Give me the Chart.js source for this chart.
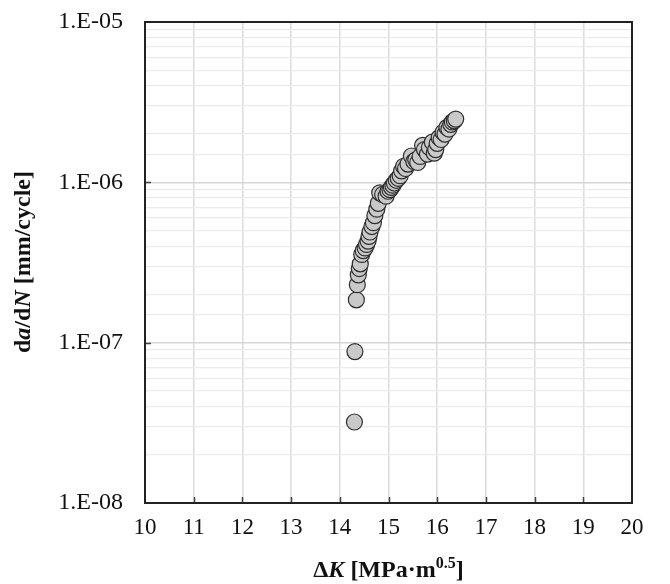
<!DOCTYPE html>
<html>
<head>
<meta charset="utf-8">
<script src="https://cdn.jsdelivr.net/npm/chart.js@4.4.1/dist/chart.umd.min.js"></script>
<style>
  html, body { margin: 0; padding: 0; background: #fff; }
  #wrap { width: 670px; height: 584px; }
</style>
</head>
<body>
<div id="wrap"><canvas id="container"></canvas></div>
<script>
// stress intensity range, MPa·m^0.5
const kValues = [
  14.30, 14.31, 14.34, 14.36, 14.38, 14.40, 14.42, 14.45, 14.48, 14.52,
  14.55, 14.58, 14.60, 14.62, 14.66, 14.69, 14.72, 14.76, 14.79, 14.82,
  14.88, 14.95, 14.99, 15.03, 15.06, 15.09, 15.12, 15.16, 15.20, 15.24,
  15.27, 15.31, 15.35, 15.40, 15.47, 15.52, 15.56, 15.60, 15.65, 15.70,
  15.74, 15.80, 15.84, 15.90, 15.94, 15.97, 16.00, 16.04, 16.08, 16.12,
  16.16, 16.20, 16.24, 16.28, 16.31, 16.35, 16.38
];
// crack growth rate, mm/cycle
const rateValues = [
  3.2e-8, 8.8e-8, 1.85e-7, 2.3e-7, 2.65e-7, 2.9e-7, 3.1e-7, 3.55e-7, 3.75e-7, 3.9e-7,
  4.1e-7, 4.3e-7, 4.6e-7, 4.9e-7, 5.3e-7, 5.6e-7, 6.2e-7, 6.8e-7, 7.4e-7, 8.6e-7,
  8.4e-7, 8.2e-7, 8.8e-7, 9.0e-7, 9.3e-7, 9.6e-7, 9.9e-7, 1.03e-6, 1.06e-6, 1.10e-6,
  1.18e-6, 1.26e-6, 1.22e-6, 1.30e-6, 1.46e-6, 1.35e-6, 1.38e-6, 1.33e-6, 1.45e-6, 1.70e-6,
  1.60e-6, 1.50e-6, 1.65e-6, 1.78e-6, 1.52e-6, 1.60e-6, 1.75e-6, 1.90e-6, 1.85e-6, 2.05e-6,
  2.00e-6, 2.20e-6, 2.15e-6, 2.30e-6, 2.38e-6, 2.42e-6, 2.48e-6
];
const xRange = [10, 20];
const yRange = [1e-8, 1e-5];
const yDecades = [1e-7, 1e-6];

const serif = "'Liberation Serif', 'Times New Roman', serif";

function isDecade(v) {
  const e = Math.log10(v);
  return Math.abs(e - Math.round(e)) < 1e-6;
}

// draws a run of text pieces with their own font / offset
function drawPieces(ctx, pieces, x, y) {
  let total = 0;
  pieces.forEach(p => { ctx.font = p.font; p.w = ctx.measureText(p.text).width; total += p.w; });
  let cx = x - total / 2;
  pieces.forEach(p => {
    ctx.font = p.font;
    ctx.fillText(p.text, cx, y + (p.dy || 0));
    cx += p.w;
  });
}

const framePlugin = {
  id: 'frame',
  afterDraw(chart) {
    const { ctx, chartArea: a, scales } = chart;
    ctx.save();
    // inside tick marks
    ctx.strokeStyle = '#404040';
    ctx.lineWidth = 1.5;
    for (let k = xRange[0] + 1; k < xRange[1]; k++) {
      const px = Math.round(scales.x.getPixelForValue(k)) + 0.5;
      ctx.beginPath();
      ctx.moveTo(px, a.bottom);
      ctx.lineTo(px, a.bottom - 6);
      ctx.stroke();
    }
    yDecades.forEach(v => {
      const py = Math.round(scales.y.getPixelForValue(v)) + 0.5;
      ctx.beginPath();
      ctx.moveTo(a.left, py);
      ctx.lineTo(a.left + 6, py);
      ctx.stroke();
    });
    ctx.strokeStyle = '#222';
    ctx.lineWidth = 2;
    ctx.strokeRect(a.left, a.top, a.right - a.left, a.bottom - a.top);

    ctx.fillStyle = '#111';
    ctx.textBaseline = 'alphabetic';
    const b = 'bold 24px ' + serif, bi = 'italic bold 24px ' + serif, sup = 'bold 16px ' + serif;
    drawPieces(ctx, [
      { text: 'Δ', font: b }, { text: 'K', font: bi }, { text: ' [MPa·m', font: b },
      { text: '0.5', font: sup, dy: -9 }, { text: ']', font: b }
    ], (a.left + a.right) / 2, 577);

    ctx.translate(30, 262);
    ctx.rotate(-Math.PI / 2);
    drawPieces(ctx, [
      { text: 'd', font: b }, { text: 'a', font: bi }, { text: '/d', font: b },
      { text: 'N', font: bi }, { text: ' [mm/cycle]', font: b }
    ], 0, 0);
    ctx.restore();
  }
};

new Chart(document.getElementById('container'), {
  type: 'scatter',
  data: {
    datasets: [{
      data: kValues.map((k, i) => ({ x: k, y: rateValues[i] })),
      backgroundColor: '#c9c9c9',
      borderColor: '#2e2e2e',
      borderWidth: 1.2,
      pointRadius: 8,
      pointHoverRadius: 8
    }]
  },
  options: {
    responsive: true,
    maintainAspectRatio: false,
    animation: false,
    layout: { padding: { left: 0, right: 38, top: 22, bottom: 0 } },
    plugins: { legend: { display: false }, tooltip: { enabled: false } },
    scales: {
      x: {
        type: 'linear',
        min: xRange[0],
        max: xRange[1],
        afterFit: s => { s.height = 81; s.paddingLeft = 0; s.paddingRight = 0; },
        grid: { color: '#dcdcdc', lineWidth: 1.5, drawTicks: false },
        border: { display: false },
        ticks: {
          stepSize: 1,
          padding: 11,
          color: '#111',
          font: { family: serif, size: 23 }
        }
      },
      y: {
        type: 'logarithmic',
        min: yRange[0],
        max: yRange[1],
        afterFit: s => { s.width = 145; s.paddingTop = 0; s.paddingBottom = 0; },
        grid: {
          drawTicks: false,
          color: c => (c.tick && isDecade(c.tick.value)) ? '#d6d6d6' : '#ececec',
          lineWidth: c => (c.tick && isDecade(c.tick.value)) ? 1.5 : 1.2
        },
        border: { display: false },
        ticks: {
          autoSkip: false,
          padding: 22,
          color: '#111',
          font: { family: serif, size: 24 },
          callback: v => isDecade(v) ? '1.E-' + String(-Math.round(Math.log10(v))).padStart(2, '0') : ''
        }
      }
    }
  },
  plugins: [framePlugin]
});
</script>
</body>
</html>
